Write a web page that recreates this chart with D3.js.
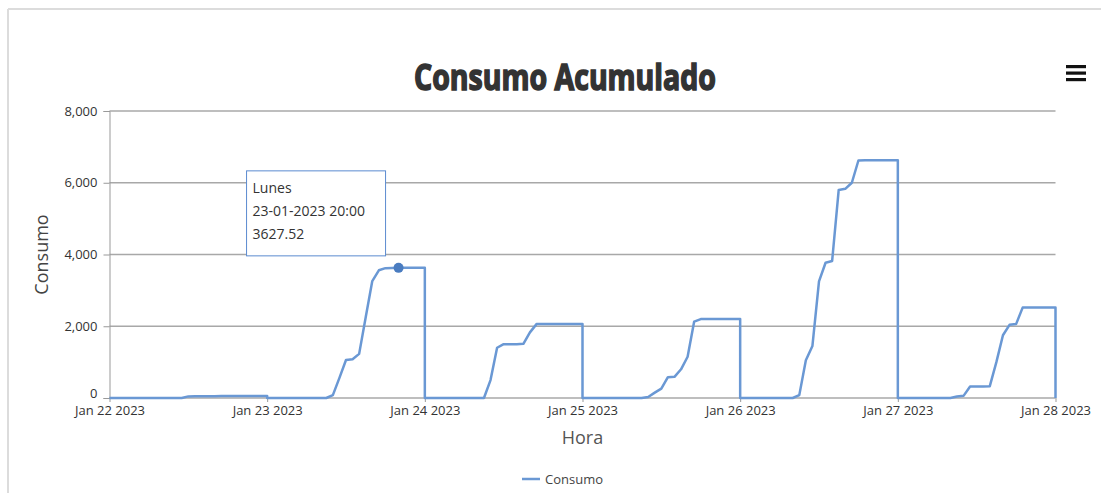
<!DOCTYPE html>
<html>
<head>
<meta charset="utf-8">
<script src="https://cdnjs.cloudflare.com/ajax/libs/d3/7.8.5/d3.min.js"></script>
<style>
  body { margin: 0; background: #fff; }
  svg text { font-family: "Open Sans", "Noto Sans", sans-serif; }
</style>
</head>
<body>
<div id="chart"></div>
<script>
// one array per day, hourly cumulative values from 00:00 to 24:00
var days = ["2023-01-22", "2023-01-23", "2023-01-24", "2023-01-25", "2023-01-26", "2023-01-27"];
var day22 = [0,0,0,0,0,0,0,0,0,0,0,0,45,50,50,52,52,53,53,55,55,55,55,55,55];
var day23 = [0,0,0,0,0,0,0,0,0,0,80,560,1060,1080,1230,2250,3260,3560,3620,3625,3627.52,3627.52,3627.52,3627.52,3627.52];
var day24 = [0,0,0,0,0,0,0,0,0,0,500,1400,1500,1500,1500,1510,1830,2060,2065,2065,2065,2065,2065,2065,2065];
var day25 = [0,0,0,0,0,0,0,0,0,0,30,150,260,580,590,800,1150,2130,2200,2205,2205,2205,2205,2205,2205];
var day26 = [0,0,0,0,0,0,0,0,0,80,1050,1450,3250,3770,3820,5800,5830,6000,6620,6630,6630,6630,6630,6630,6630];
var day27 = [0,0,0,0,0,0,0,0,0,40,60,320,320,320,330,1000,1750,2040,2060,2520,2520,2520,2520,2520,2520];
var dayValues = [day22, day23, day24, day25, day26, day27];
var endDay = "2023-01-28";
var yTicks = [0, 2000, 4000, 6000, 8000];
var tooltipDay = 1, tooltipHour = 20, tooltipName = "Lunes";

var w = 1101, h = 493;
var parseDay = d3.timeParse("%Y-%m-%d");

var points = [];
days.forEach(function(d, i) {
  var start = parseDay(d);
  dayValues[i].forEach(function(v, hr) {
    points.push({ t: d3.timeHour.offset(start, hr), v: v });
  });
});
points.push({ t: parseDay(endDay), v: 0 });

var svg = d3.select("#chart").append("svg")
  .attr("width", w).attr("height", h);

// outer frame
svg.append("line").attr("x1", 8).attr("x2", w).attr("y1", 9).attr("y2", 9)
  .attr("stroke", "#dcdcdc").attr("stroke-width", 2);
svg.append("line").attr("x1", 8).attr("x2", 8).attr("y1", 9).attr("y2", h)
  .attr("stroke", "#dcdcdc").attr("stroke-width", 2);

var x = d3.scaleTime()
  .domain([parseDay(days[0]), parseDay(endDay)])
  .range([109.5, 1055.5]);
var y = d3.scaleLinear().domain([0, 8000]).range([398, 111]);

// gridlines
svg.append("g").selectAll("line").data(yTicks).enter().append("line")
  .attr("x1", x.range()[0]).attr("x2", x.range()[1])
  .attr("y1", function(d) { return y(d); })
  .attr("y2", function(d) { return y(d); })
  .attr("stroke", "#a8a8a8").attr("stroke-width", 1.6);

// y axis
var yAxis = svg.append("g")
  .attr("transform", "translate(" + x.range()[0] + ",0)")
  .call(d3.axisLeft(y).tickValues(yTicks).tickFormat(d3.format(",")).tickSize(6).tickPadding(6));
yAxis.select(".domain").attr("stroke", "#999");
yAxis.selectAll(".tick line").attr("stroke", "#999");
yAxis.selectAll("text").attr("font-size", 13).attr("fill", "#333")
  .attr("font-family", "'Open Sans', sans-serif");
yAxis.selectAll(".tick").filter(function(d) { return d === 0; })
  .select("text").attr("dy", "-0.05em");

// x axis
var xAxis = svg.append("g")
  .attr("transform", "translate(0," + y(0) + ")")
  .call(d3.axisBottom(x).ticks(d3.timeDay.every(1)).tickFormat(d3.timeFormat("%b %d %Y")).tickSize(4).tickPadding(4));
xAxis.select(".domain").remove();
xAxis.selectAll(".tick line").attr("stroke", "#999");
xAxis.selectAll("text").attr("font-size", 13).attr("fill", "#333")
  .attr("font-family", "'Open Sans', sans-serif");

// line
var line = d3.line()
  .x(function(d) { return x(d.t); })
  .y(function(d) { return y(d.v); });
svg.append("path").datum(points)
  .attr("fill", "none")
  .attr("stroke", "#6a98d4")
  .attr("stroke-width", 2.5)
  .attr("stroke-linejoin", "round")
  .attr("d", line);

// highlighted point + tooltip
var tp = { t: d3.timeHour.offset(parseDay(days[tooltipDay]), tooltipHour), v: dayValues[tooltipDay][tooltipHour] };
svg.append("circle")
  .attr("cx", x(tp.t)).attr("cy", y(tp.v)).attr("r", 5)
  .attr("fill", "#4a7cc0");

var tip = svg.append("g")
  .attr("transform", "translate(" + (x(tp.t) - 152) + "," + (y(tp.v) - 97) + ")");
tip.append("rect").attr("width", 139).attr("height", 85)
  .attr("fill", "#fff").attr("stroke", "#5b8bd0").attr("stroke-width", 1);
var tipLines = [tooltipName, d3.timeFormat("%d-%m-%Y %H:%M")(tp.t), String(tp.v)];
tip.selectAll("text").data(tipLines).enter().append("text")
  .attr("x", 6)
  .attr("y", function(d, i) { return 22 + i * 23; })
  .attr("font-size", 14).attr("fill", "#333")
  .text(function(d) { return d; });

// title
svg.append("text")
  .attr("x", 565).attr("y", 90)
  .attr("text-anchor", "middle")
  .attr("font-family", "'Liberation Sans Narrow', 'DejaVu Sans', sans-serif")
  .attr("font-weight", "bold")
  .attr("font-size", 36)
  .attr("fill", "#333").attr("stroke", "#333").attr("stroke-width", 1.6)
  .attr("textLength", 302).attr("lengthAdjust", "spacingAndGlyphs")
  .text("Consumo Acumulado");

// menu icon
svg.append("g").selectAll("rect").data([0, 1, 2]).enter().append("rect")
  .attr("x", 1066).attr("y", function(d) { return 65 + d * 6.5; })
  .attr("width", 20).attr("height", 3.2).attr("fill", "#111");

// axis titles
svg.append("text")
  .attr("x", 582.5).attr("y", 444)
  .attr("text-anchor", "middle")
  .attr("font-size", 18).attr("fill", "#555")
  .text("Hora");
svg.append("text")
  .attr("transform", "translate(48,254.5) rotate(-90)")
  .attr("text-anchor", "middle")
  .attr("font-size", 18).attr("fill", "#444")
  .text("Consumo");

// legend
svg.append("line").attr("x1", 522).attr("x2", 540).attr("y1", 479).attr("y2", 479)
  .attr("stroke", "#6a98d4").attr("stroke-width", 2.5);
svg.append("text").attr("x", 545).attr("y", 484)
  .attr("font-size", 13).attr("fill", "#444")
  .text("Consumo");
</script>
</body>
</html>
